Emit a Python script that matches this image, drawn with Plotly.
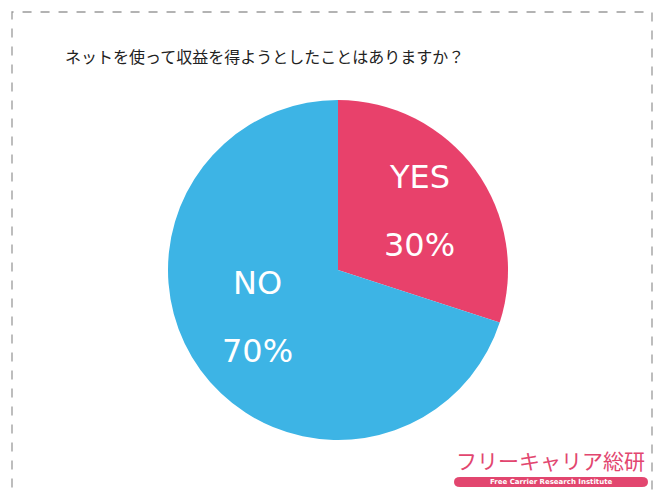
import math
import plotly.graph_objects as go

labels = ["YES", "NO"]
values = [30, 70]
colors = ["#E8416B", "#3DB4E5"]
title_text = "ネットを使って収益を得ようとしたことはありますか？"
logo_text = "フリーキャリア総研"
logo_sub = "Free Carrier Research Institute"

W, H = 659, 491
cx, cy, R = 338, 270, 170
label_shift = {"YES": (3, -2), "NO": (-2, -10)}

fig = go.Figure(go.Pie(
    labels=labels, values=values, sort=False, direction="clockwise", rotation=0,
    marker=dict(colors=colors, line=dict(width=0)),
    textinfo="none", hoverinfo="label+percent", showlegend=False,
    domain=dict(x=[(cx - R) / W, (cx + R) / W], y=[1 - (cy + R) / H, 1 - (cy - R) / H]),
))


def ann(x, y, text, font):
    fig.add_annotation(x=x / W, y=1 - y / H, xref="paper", yref="paper", text=text,
                       showarrow=False, xanchor="center", yanchor="middle", font=font)


total = sum(values)
start = 0.0
for lab, v in zip(labels, values):
    mid = (start + v / 2) / total * 2 * math.pi
    start += v
    rr = 0.57 * R
    sx, sy = label_shift[lab]
    px = cx + rr * math.sin(mid) + sx
    py = cy - rr * math.cos(mid) + sy
    pct = f"{round(v / total * 100)}%"
    f = dict(family="DejaVu Sans", size=32, color="#FFFFFF")
    ann(px, py - 34, lab, f)
    ann(px, py + 34, pct, f)

ann(264, 56, title_text, dict(family="Noto Sans CJK JP", size=16, color="#222222"))

fig.add_shape(type="rect", xref="paper", yref="paper",
              x0=12 / W, x1=652 / W, y0=-0.05, y1=1 - 12 / H,
              line=dict(color="#9A9A9A", width=1.3, dash="dash"))

ann(550, 460, logo_text, dict(family="Noto Sans CJK JP", size=21, color="#E2466F"))
fig.add_shape(type="path", xref="paper", yref="paper",
              path=f"M {460/W},{1-477/H} L {642/W},{1-477/H} Q {648/W},{1-477/H} {648/W},{1-482/H} "
                   f"Q {648/W},{1-487/H} {642/W},{1-487/H} L {460/W},{1-487/H} "
                   f"Q {454/W},{1-487/H} {454/W},{1-482/H} Q {454/W},{1-477/H} {460/W},{1-477/H} Z",
              fillcolor="#E2466F", line=dict(width=0))
ann(551, 482, f"<b>{logo_sub}</b>", dict(family="DejaVu Sans", size=7, color="#FFFFFF"))

fig.update_layout(width=W, height=H, margin=dict(l=0, r=0, t=0, b=0),
                  paper_bgcolor="#FFFFFF", plot_bgcolor="#FFFFFF")
fig.write_html("out.html")
